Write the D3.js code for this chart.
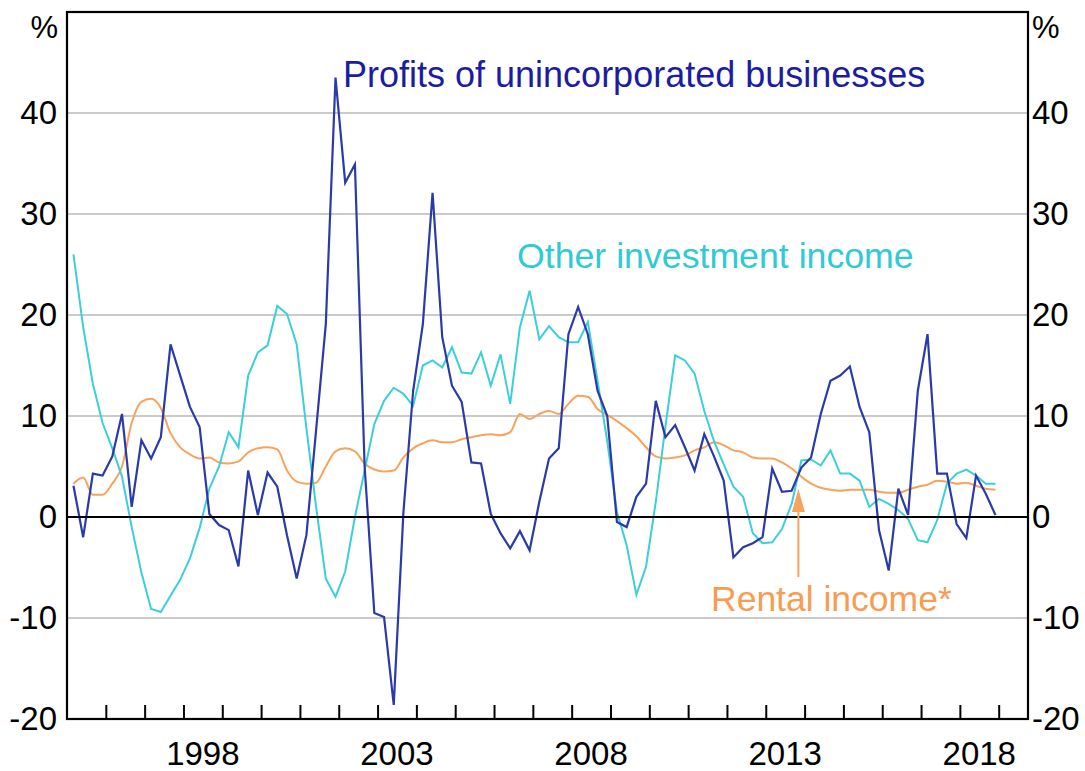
<!DOCTYPE html>
<html>
<head>
<meta charset="utf-8">
<script src="https://cdn.jsdelivr.net/npm/d3@7"></script>
<style>
  html, body { margin: 0; padding: 0; background: #ffffff; }
  svg { display: block; }
  text { font-family: Arial, "Liberation Sans", sans-serif; }
</style>
</head>
<body>
<svg id="chart" width="1085" height="771"></svg>
<script>
// ---- Data (quarterly, 1995 Q1 – 2018 Q4), % ----
const firstYear = 1995;
const nQuarters = 96;

const profits = [3.1, -2.0, 4.3, 4.1, 6.0, 10.2, 1.0, 7.6, 5.8, 7.9,
  17.1, 14.0, 10.9, 8.9, 0.3, -0.8, -1.3, -4.9, 4.6, 0.2,
  4.4, 3.0, -1.8, -6.1, -1.8, 8.6, 19.1, 43.5, 33.1, 34.9,
  5.0, -9.5, -9.9, -18.6, 0.5, 12.5, 19.1, 32.1, 17.8, 13.0,
  11.4, 5.4, 5.3, 0.3, -1.6, -3.1, -1.4, -3.3, 1.5, 5.8,
  6.8, 18.1, 20.8, 18.1, 12.5, 10.0, -0.5, -1.0, 2.0, 3.3,
  11.5, 7.9, 9.1, 6.9, 4.6, 8.2, 6.0, 3.6, -4.0, -3.0,
  -2.6, -2.0, 4.8, 2.5, 2.6, 4.9, 5.9, 10.2, 13.5, 14.0,
  14.9, 10.9, 8.4, -1.3, -5.3, 2.8, 0.2, 12.5, 18.1, 4.3,
  4.3, -0.7, -2.1, 4.1, 2.3, 0.2];

const otherInvestment = [26.0, 18.8, 13.2, 9.3, 6.8, 4.0, -1.0, -5.5, -9.1, -9.4,
  -7.8, -6.2, -4.1, -1.1, 2.8, 5.0, 8.4, 6.9, 14.0, 16.3,
  17.0, 20.9, 20.1, 17.1, 8.8, 1.0, -6.1, -7.9, -5.4, 0.0,
  4.6, 9.2, 11.5, 12.8, 12.2, 11.0, 15.0, 15.5, 14.8, 16.8,
  14.3, 14.2, 16.3, 13.0, 16.1, 11.2, 18.8, 22.4, 17.6, 18.9,
  17.8, 17.3, 17.3, 19.3, 13.5, 7.5, 0.5, -2.8, -7.7, -4.9,
  1.5, 9.0, 16.0, 15.5, 14.2, 10.5, 7.5, 5.2, 3.0, 2.0,
  -1.6, -2.6, -2.5, -1.2, 1.3, 5.6, 5.7, 5.1, 6.6, 4.3,
  4.3, 3.6, 1.0, 1.8, 1.3, 0.7, -0.2, -2.3, -2.5, -0.3,
  3.3, 4.3, 4.7, 4.1, 3.3, 3.3];

const rental = [3.3, 3.9, 2.2, 2.2, 3.3, 5.0, 9.3, 11.4, 11.7, 10.8,
  8.3, 6.9, 6.2, 5.8, 5.9, 5.4, 5.3, 5.5, 6.4, 6.8,
  6.9, 6.7, 4.6, 3.5, 3.3, 3.4, 5.0, 6.5, 6.8, 6.5,
  5.3, 4.7, 4.5, 4.6, 5.9, 6.8, 7.3, 7.6, 7.4, 7.4,
  7.7, 7.9, 8.1, 8.2, 8.1, 8.4, 10.2, 9.7, 10.2, 10.5,
  10.2, 11.2, 12.0, 11.9, 10.7, 10.1, 9.5, 8.8, 8.0, 6.9,
  6.0, 5.8, 5.9, 6.1, 6.6, 6.9, 7.4, 7.1, 6.6, 6.4,
  5.9, 5.8, 5.8, 5.4, 4.8, 4.0, 3.3, 2.9, 2.7, 2.6,
  2.7, 2.7, 2.7, 2.5, 2.4, 2.4, 2.7, 3.0, 3.2, 3.6,
  3.5, 3.3, 3.4, 3.1, 2.8, 2.7];

const yTicks = [-20, -10, 0, 10, 20, 30, 40];
const yearLabels = [1998, 2003, 2008, 2013, 2018];
const yearTicks = d3.range(1996, 2020);

const seriesLabels = {
  profits: "Profits of unincorporated businesses",
  other: "Other investment income",
  rental: "Rental income*"
};

// ---- Layout ----
const plot = { left: 67, right: 1028, top: 12, bottom: 719 };
const colors = { profits: "#2a3aaa", profitsText: "#1c1ca2", other: "#3ccfd9", otherText: "#2ecad6", rental: "#f8a35c", rentalText: "#f79c52" };
const fontFamily = "Arial, 'Liberation Sans', sans-serif";
const fmt = d => String(d);   // plain hyphen-minus as in the reference

const svg = d3.select("#chart");

const x = d3.scaleLinear().domain([1995, 2019.755]).range([plot.left, plot.right]);
const y = d3.scaleLinear().domain([-20, 50]).range([plot.bottom, plot.top]);

const dates = d3.range(nQuarters).map(i => firstYear + 1 / 6 + i * 0.25);

// Gridlines
svg.append("g").selectAll("line")
  .data(yTicks.filter(v => v !== 0 && v !== -20))
  .join("line")
  .attr("x1", plot.left).attr("x2", plot.right)
  .attr("y1", d => y(d)).attr("y2", d => y(d))
  .attr("stroke", "#b8b8b8").attr("stroke-width", 1.6);

// Series lines
const mkLine = (vals, curve) => d3.line()
  .x((d, i) => x(dates[i]))
  .y(d => y(d))
  .curve(curve || d3.curveLinear)(vals);

svg.append("path").attr("d", mkLine(rental, d3.curveMonotoneX))
  .attr("fill", "none").attr("stroke", colors.rental).attr("stroke-width", 2);
svg.append("path").attr("d", mkLine(otherInvestment))
  .attr("fill", "none").attr("stroke", colors.other).attr("stroke-width", 2);
svg.append("path").attr("d", mkLine(profits))
  .attr("fill", "none").attr("stroke", colors.profits).attr("stroke-width", 2.2);

// Zero line
svg.append("line")
  .attr("x1", plot.left).attr("x2", plot.right)
  .attr("y1", y(0)).attr("y2", y(0))
  .attr("stroke", "#000").attr("stroke-width", 2);

// Frame
svg.append("rect")
  .attr("x", plot.left).attr("y", plot.top)
  .attr("width", plot.right - plot.left).attr("height", plot.bottom - plot.top)
  .attr("fill", "none").attr("stroke", "#000").attr("stroke-width", 2.2);

// X axis ticks (inside, pointing up)
const xAxis = d3.axisBottom(x).tickValues(yearTicks).tickSize(-14).tickFormat("");
const gx = svg.append("g").attr("transform", `translate(0,${plot.bottom})`).call(xAxis);
gx.select(".domain").remove();
gx.selectAll(".tick line").attr("stroke", "#000").attr("stroke-width", 2);

// Year labels centred on mid-year
svg.append("g").selectAll("text")
  .data(yearLabels)
  .join("text")
  .attr("x", d => x(d + 0.5))
  .attr("y", 765)
  .attr("text-anchor", "middle")
  .attr("font-size", 33)
  .attr("fill", "#000")
  .text(d => d);

// Y axes (left and right)
const yLeft = d3.axisLeft(y).tickValues(yTicks).tickSize(0).tickPadding(10).tickFormat(fmt);
const gl = svg.append("g").attr("transform", `translate(${plot.left},0)`).call(yLeft);
gl.select(".domain").remove();
gl.selectAll("text").attr("font-size", 33).attr("fill", "#000").attr("font-family", fontFamily);

const yRight = d3.axisRight(y).tickValues(yTicks).tickSize(0).tickPadding(4).tickFormat(fmt);
const gr = svg.append("g").attr("transform", `translate(${plot.right},0)`).call(yRight);
gr.select(".domain").remove();
gr.selectAll("text").attr("font-size", 33).attr("fill", "#000").attr("font-family", fontFamily);

// Unit labels
svg.append("text").attr("x", 58).attr("y", 38).attr("text-anchor", "end")
  .attr("font-size", 31).attr("fill", "#000").text("%");
svg.append("text").attr("x", 1032).attr("y", 38).attr("text-anchor", "start")
  .attr("font-size", 31).attr("fill", "#000").text("%");

// Series labels
svg.append("text").attr("x", 343).attr("y", 87)
  .attr("font-size", 36).attr("fill", colors.profitsText).text(seriesLabels.profits);
svg.append("text").attr("x", 517).attr("y", 268)
  .attr("font-size", 35.7).attr("fill", colors.otherText).text(seriesLabels.other);
svg.append("text").attr("x", 711).attr("y", 611)
  .attr("font-size", 35.5).attr("fill", colors.rentalText).text(seriesLabels.rental);

// Arrow for rental income
const arrowX = x(2013.84);
svg.append("line")
  .attr("x1", arrowX).attr("x2", arrowX)
  .attr("y1", 577).attr("y2", 506)
  .attr("stroke", colors.rental).attr("stroke-width", 2);
svg.append("path")
  .attr("d", `M${arrowX - 6.5},${512} L${arrowX},${489} L${arrowX + 6.5},${512} Z`)
  .attr("fill", colors.rental);
</script>
</body>
</html>
